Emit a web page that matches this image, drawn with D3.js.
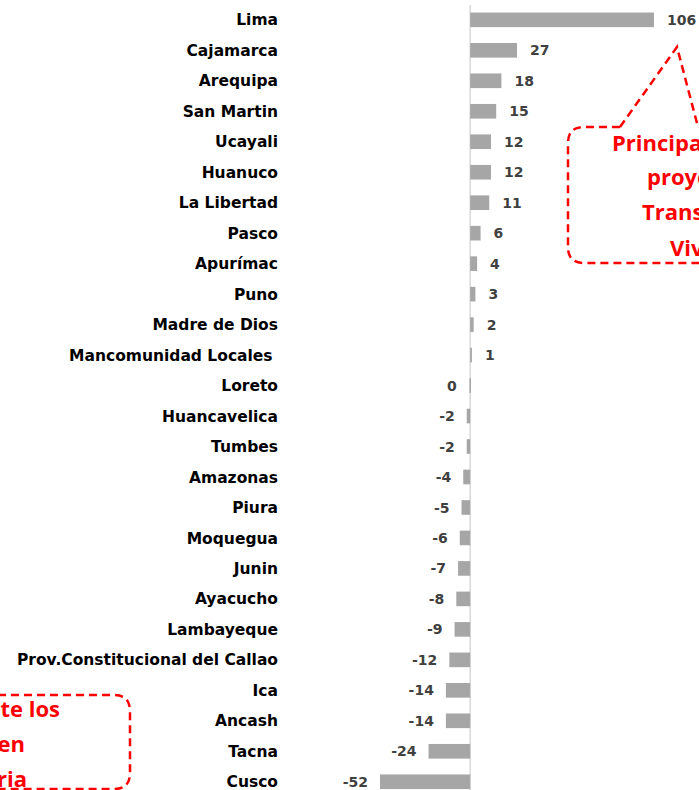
<!DOCTYPE html>
<html><head><meta charset="utf-8">
<script src="https://cdn.jsdelivr.net/npm/d3@7"></script>
<style>
html,body{margin:0;padding:0;background:#fff;overflow:hidden}
svg{display:block}
text.cat{white-space:pre}
</style></head>
<body>
<svg id="c" width="699" height="790"></svg>
<script>
const categories = ["Lima","Cajamarca","Arequipa","San Martin","Ucayali","Huanuco","La Libertad","Pasco","Apurímac","Puno","Madre de Dios","Mancomunidad Locales ","Loreto","Huancavelica","Tumbes","Amazonas","Piura","Moquegua","Junin","Ayacucho","Lambayeque","Prov.Constitucional del Callao","Ica","Ancash","Tacna","Cusco"];
const values = [106,27,18,15,12,12,11,6,4,3,2,1,-0.4,-2,-2,-4,-5,-6,-7,-8,-9,-12,-14,-14,-24,-52];
const calloutTop = ["Principalmente","proyectos de","Transporte y","Vivienda"];
const calloutBottom = ["Principalmente los","proyectos en","Infraestructura Agraria"];

const svg = d3.select("#c");
const x = d3.scaleLinear().domain(d3.extent(values)).range([380, 654]);
const y = d3.scaleBand().domain(categories).range([4.6, 797]).paddingInner(0.52).paddingOuter(0.26);

// axis line at zero
svg.append("line").attr("x1", x(0)).attr("x2", x(0)).attr("y1", 5).attr("y2", 790)
  .attr("stroke", "#d9d9d9").attr("stroke-width", 1.5);

const data = categories.map((c, i) => ({c, v: values[i]}));

svg.append("g").selectAll("rect").data(data).join("rect")
  .attr("x", d => Math.min(x(0), x(d.v)))
  .attr("width", d => Math.max(1.5, Math.abs(x(d.v) - x(0))))
  .attr("y", d => y(d.c))
  .attr("height", y.bandwidth())
  .attr("fill", "#a6a6a6");

const labelFont = "DejaVu Sans, Verdana, sans-serif";
svg.append("g").selectAll("text").data(data).join("text")
  .attr("class", "cat")
  .attr("x", 278).attr("y", d => y(d.c) + y.bandwidth()/2)
  .attr("dy", "0.36em").attr("text-anchor", "end")
  .attr("font-family", labelFont).attr("font-weight", "bold").attr("font-size", 15.5)
  .attr("fill", "#000").text(d => d.c);

svg.append("g").selectAll("text").data(data).join("text")
  .attr("x", d => d.v > 0 ? x(d.v) + 13 : Math.min(x(d.v), x(0) - 1.5) - 12)
  .attr("y", d => y(d.c) + y.bandwidth()/2)
  .attr("dy", "0.36em").attr("text-anchor", d => d.v > 0 ? "start" : "end")
  .attr("font-family", labelFont).attr("font-weight", "bold").attr("font-size", 14)
  .attr("fill", "#404040").text(d => String(Math.round(d.v) === 0 ? 0 : Math.round(d.v)));

// callouts
const red = "#ff0000";
const dash = "8,5";
const calloutFont = "Open Sans, sans-serif";
const topPath = d3.path();
{
  const L = 568, T = 127, B = 263, r = 16, R = 780;
  topPath.moveTo(620, T);
  topPath.lineTo(677, 47);
  topPath.lineTo(698, T);
  topPath.lineTo(R, T);
  topPath.moveTo(620, T);
  topPath.lineTo(L + r, T);
  topPath.quadraticCurveTo(L, T, L, T + r);
  topPath.lineTo(L, B - r);
  topPath.quadraticCurveTo(L, B, L + r, B);
  topPath.lineTo(R, B);
}
svg.append("path").attr("d", topPath.toString()).attr("fill", "none")
  .attr("stroke", red).attr("stroke-width", 2.5).attr("stroke-dasharray", dash);

const topX = [612, 647, 642, 670];
const topY = [151, 185, 220, 256];
svg.append("g").selectAll("text").data(calloutTop).join("text")
  .attr("x", (d, i) => topX[i]).attr("y", (d, i) => topY[i])
  .attr("font-family", calloutFont).attr("font-weight", "bold").attr("font-size", 22)
  .attr("fill", red).text(d => d);

const botPath = d3.path();
{
  const R = 130, T = 695, B = 789, r = 16, L = -80;
  botPath.moveTo(L, T);
  botPath.lineTo(R - r, T);
  botPath.quadraticCurveTo(R, T, R, T + r);
  botPath.lineTo(R, B - r);
  botPath.quadraticCurveTo(R, B, R - r, B);
  botPath.lineTo(L, B);
}
svg.append("path").attr("d", botPath.toString()).attr("fill", "none")
  .attr("stroke", red).attr("stroke-width", 2.5).attr("stroke-dasharray", dash);

const botX = [60, 25, 27];
const botY = [717, 752, 787];
svg.append("g").selectAll("text").data(calloutBottom).join("text")
  .attr("x", (d, i) => botX[i]).attr("y", (d, i) => botY[i])
  .attr("text-anchor", "end")
  .attr("font-family", calloutFont).attr("font-weight", "bold").attr("font-size", 22)
  .attr("fill", red).text(d => d);
</script>
</body></html>
